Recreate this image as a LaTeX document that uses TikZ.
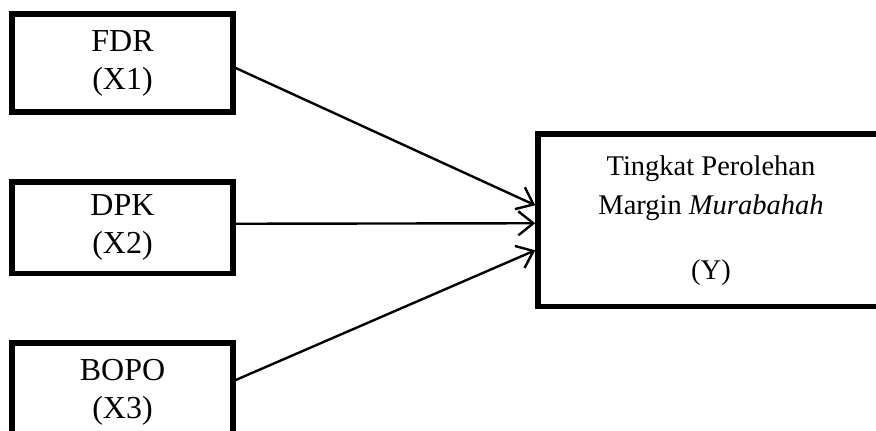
\documentclass[tikz,border=0pt]{standalone}
\usepackage{fontspec}
\setmainfont{Liberation Serif}
\usetikzlibrary{arrows.meta}
\tikzset{
  varbox/.style={draw, line width=5.5pt, rectangle, inner sep=0pt, align=center},
  smalltext/.style={font=\fontsize{32}{38}\selectfont},
  bigtext/.style={font=\fontsize{28.5}{39}\selectfont},
  arr/.style={line width=2.4pt, -{Straight Barb[length=15pt, width=24pt, line width=2.4pt]}}
}
\begin{document}
\begin{tikzpicture}[x=1pt, y=-1pt]
\useasboundingbox (0,0) rectangle (876,431);
\node[varbox, smalltext, minimum width=221pt, minimum height=98pt] (fdr) at (122.5,63) {FDR\\(X1)};
\node[varbox, smalltext, minimum width=221pt, minimum height=91.5pt] (dpk) at (122.5,227.75) {DPK\\(X2)};
\node[varbox, minimum width=221pt, minimum height=120pt] (bopo) at (122.5,403) {};
\node[smalltext, align=center] (bopot) at (122.5,392) {BOPO\\(X3)};
\node[varbox, bigtext, minimum width=346pt, minimum height=172.5pt] (yb) at (711,220.25) {Tingkat Perolehan\\Margin \textit{Murabahah}\\[26pt](Y)};
\draw[arr] ([yshift=-5pt]fdr.east) -- ([yshift=15pt]yb.west);
\draw[arr] ([yshift=4pt]dpk.east) -- ([yshift=-3pt]yb.west);
\draw[arr] ([yshift=23pt]bopo.east) -- ([yshift=-30pt]yb.west);
\end{tikzpicture}
\end{document}
